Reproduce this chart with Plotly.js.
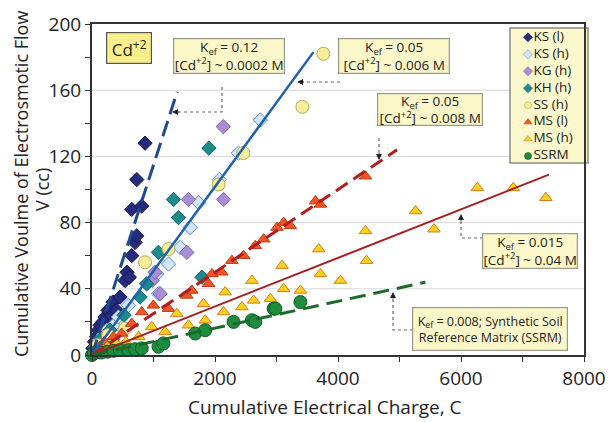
<!DOCTYPE html>
<html>
<head>
<meta charset="utf-8">
<script src="https://cdn.plot.ly/plotly-3.0.1.min.js"></script>
<style>
  html, body { margin: 0; padding: 0; background: #fff; }
  #chart { width: 612px; height: 422px; }
</style>
</head>
<body>
<div id="chart"></div>
<script>
// Cumulative electrical charge (C) vs cumulative electroosmotic flow volume (cc)
const ksLowX  = [15, 40, 75, 103, 130, 175, 211, 260, 320, 340, 401, 456, 537, 570, 608, 646, 700, 728, 646, 809, 728, 863];
const ksLowY  = [4, 8, 11, 15, 18, 20, 23, 27, 24, 32, 27, 35, 45, 50, 47, 60, 68, 72, 88, 90, 106, 128];

const ksHighX = [60, 120, 180, 239, 350, 429, 592, 890, 1053, 1081, 1244, 1433, 1596, 1734, 2070, 2380, 2737];
const ksHighY = [5, 9, 12, 15, 18, 23, 30, 43, 49, 37, 55, 65, 77, 92, 106, 122, 142];

const kgHighX = [980, 1026, 1107, 1542, 1569, 2139, 2134];
const kgHighY = [45, 50, 37, 62, 94, 94, 138];

const khHighX = [60, 150, 293, 520, 782, 889, 1080, 1325, 1406, 1787, 1900];
const khHighY = [5, 10, 15, 24, 35, 43, 62, 94, 83, 47, 125];

const ssHighX = [100, 262, 538, 863, 1244, 2058, 2460, 3421, 3763];
const ssHighY = [6, 12, 16, 56, 64, 103, 122, 150, 182];

const msLowX  = [50, 120, 200, 347, 483, 646, 809, 998, 1244, 1542, 1623, 1895, 1950, 2112, 2275, 2466, 2655, 2791, 3008, 3117, 3226, 3633, 3714, 4447];
const msLowY  = [2, 5, 8, 11, 13, 19, 26, 30, 28, 36, 39, 43, 49, 50, 57, 60, 66, 70, 77, 80, 78, 93, 91, 108];

const msHighX = [100, 250, 400, 550, 760, 971, 1189, 1380, 1569, 1813, 1841, 2139, 2166, 2438, 2601, 2628, 2900, 3090, 3117, 3388, 3687, 3714, 4040, 4447, 4463, 5262, 5560, 6266, 6850, 7380];
const msHighY = [3, 5, 7, 8, 11, 17, 14, 25, 18, 31, 21, 26, 38, 29, 45, 33, 34, 54, 40, 39, 64, 49, 45, 75, 57, 87, 76, 101, 101, 95];

const ssrmX   = [0, 30, 80, 150, 250, 350, 450, 592, 700, 809, 1081, 1161, 1678, 1841, 2302, 2601, 2655, 2954, 2981, 3388];
const ssrmY   = [0, 1, 2, 1.5, 2, 2.5, 3, 3, 3.5, 4, 5, 7, 13, 15, 20, 21, 20, 28, 28, 32];

// Linear fits (endpoints)
const fitKsLowX  = [0, 1385], fitKsLowY  = [0, 159];
const fitKsHighX = [0, 3600], fitKsHighY = [0, 183];
const fitMsLowX  = [0, 4960], fitMsLowY  = [0, 124];
const fitMsHighX = [0, 7430], fitMsHighY = [0, 109];
const fitSsrmX   = [0, 5420], fitSsrmY   = [0, 44];

const seriesNames = ['KS (l)', 'KS (h)', 'KG (h)', 'KH (h)', 'SS (h)', 'MS (l)', 'MS (h)', 'SSRM'];

const xTickVals = [0, 2000, 4000, 6000, 8000];
const yTickVals = [0, 40, 80, 120, 160, 200];
const yGridVals = [40, 80, 120, 160];

const FONT = 'Open Sans, Lato, sans-serif';

const styles = [
  {symbol: 'diamond',     size: 11, fill: '#262b7e', edge: '#141850'},
  {symbol: 'diamond',     size: 11, fill: '#d3e5f8', edge: '#5d88d2'},
  {symbol: 'diamond',     size: 11, fill: '#a88ed3', edge: '#7d62b6'},
  {symbol: 'diamond',     size: 11, fill: '#1d8b8b', edge: '#106a6a'},
  {symbol: 'circle',      size: 13, fill: '#f6ee98', edge: '#b3aa58'},
  {symbol: 'triangle-up', size: 11, fill: '#ef5623', edge: '#c23a16'},
  {symbol: 'triangle-up', size: 11, fill: '#f8d31e', edge: '#de7a18'},
  {symbol: 'circle',      size: 13, fill: '#1f8b3d', edge: '#0f5c25'}
];
const seriesX = [ksLowX, ksHighX, kgHighX, khHighX, ssHighX, msLowX, msHighX, ssrmX];
const seriesY = [ksLowY, ksHighY, kgHighY, khHighY, ssHighY, msLowY, msHighY, ssrmY];

const traces = [];
seriesX.forEach((xs, i) => {
  const s = styles[i];
  traces.push({
    x: xs, y: seriesY[i], type: 'scatter', mode: 'markers', name: seriesNames[i],
    showlegend: false, cliponaxis: false,
    marker: {symbol: s.symbol, size: s.size, color: s.fill, line: {color: s.edge, width: 1}}
  });
});

function fitLine(xs, ys, color, width, dash) {
  return {x: xs, y: ys, type: 'scatter', mode: 'lines', showlegend: false,
          hoverinfo: 'skip', line: {color: color, width: width, dash: dash}};
}
traces.push(fitLine(fitKsLowX,  fitKsLowY,  '#1f4a8c', 3,   '16px,7px'));
traces.push(fitLine(fitKsHighX, fitKsHighY, '#2160ab', 2.5, 'solid'));
traces.push(fitLine(fitMsLowX,  fitMsLowY,  '#b21d1d', 3,   '14px,7px'));
traces.push(fitLine(fitMsHighX, fitMsHighY, '#a51e1e', 2,   'solid'));
traces.push(fitLine(fitSsrmX,   fitSsrmY,   '#1b6a2b', 3,   '16px,8px'));

// Pixel helpers for placing callouts inside the plot frame
const W = 612, H = 422;
const PL = 92, PR = 584, PT = 24, PB = 355;
const fx = px => (px - PL) / (PR - PL);
const fy = py => (PB - py) / (PB - PT);

// Compact key drawn on an overlaid hidden axis pair (x in pixels, y in key rows)
const KEY_TOP = 37.3, KEY_STEP = 16.96, KEY_X = 528;
const keyRowsTop = -(KEY_TOP - PT) / KEY_STEP;
const keyRowsBottom = keyRowsTop + (PB - PT) / KEY_STEP;
traces.push({
  x: seriesNames.map(() => KEY_X), y: seriesNames.map((n, i) => i),
  xaxis: 'x2', yaxis: 'y2', type: 'scatter', mode: 'markers+text', showlegend: false,
  hoverinfo: 'skip', cliponaxis: false,
  text: seriesNames, textposition: 'middle right',
  textfont: {family: FONT, size: 13.5, color: '#222'},
  marker: {symbol: styles.map(s => s.symbol), size: 7,
           color: styles.map(s => s.fill), line: {color: styles.map(s => s.edge), width: 0.6}}
});

function box(cx, cy, w, h, text, bg, border, size) {
  return {xref: 'paper', yref: 'paper', x: fx(cx), y: fy(cy), xanchor: 'center', yanchor: 'middle',
          text: text, showarrow: false, bgcolor: bg, bordercolor: border, borderwidth: 1.2,
          borderpad: 0, width: w, height: h, align: 'center',
          font: {family: FONT, size: size, color: '#222'}};
}
function head(px, py, ax, ay) {
  return {xref: 'paper', yref: 'paper', x: fx(px), y: fy(py), ax: ax, ay: ay, text: '',
          showarrow: true, arrowhead: 2, arrowsize: 1.1, arrowwidth: 1.1, arrowcolor: '#222'};
}
function label(px, py, text, angle, size) {
  return {xref: 'paper', yref: 'paper', x: fx(px), y: fy(py), xanchor: 'center', yanchor: 'middle',
          text: text, textangle: angle, showarrow: false, font: {family: FONT, size: size, color: '#222'}};
}
const paleYellow = '#fcf7c9';
const annotations = [
  // axis titles
  label(325, 407, 'Cumulative Electrical Charge, C', 0, 19),
  label(21, 184, 'Cumulative Voulme of Electrosmotic Flow', -90, 18),
  label(42, 190, 'V (cc)', -90, 18),
  // callouts
  box(129, 48, 44, 30, 'Cd<sup>+2</sup>', '#f8ef8c', '#555', 17),
  box(229, 55.5, 110, 34, 'K<sub>ef</sub> = 0.12<br>[Cd<sup>+2</sup>] ~ 0.0002 M', paleYellow, '#9a9a8a', 13.5),
  box(394, 55.5, 110, 34, 'K<sub>ef</sub> = 0.05<br>[Cd<sup>+2</sup>] ~ 0.006 M', paleYellow, '#9a9a8a', 13.5),
  box(429.5, 109.5, 104, 31, 'K<sub>ef</sub> = 0.05<br>[Cd<sup>+2</sup>] ~ 0.008 M', paleYellow, '#9a9a8a', 13.5),
  box(530, 251, 94, 34, 'K<sub>ef</sub> = 0.015<br>[Cd<sup>+2</sup>] ~ 0.04 M', paleYellow, '#9a9a8a', 13.5),
  box(490, 329, 154, 42, 'K<sub>ef</sub> = 0.008; Synthetic Soil<br>Reference Matrix (SSRM)', paleYellow, '#9a9a8a', 12.5),
  head(172, 112, 8, 0),
  head(297, 82, 8, 0),
  head(379, 160, 0, -8),
  head(461, 214, 0, 8),
  head(393, 292, 0, 8)
];

function dotted(d) {
  return {type: 'path', xref: 'paper', yref: 'paper', path: d,
          line: {color: '#666', width: 1.2, dash: 'dot'}};
}
function P(px, py) { return fx(px).toFixed(4) + ',' + fy(py).toFixed(4); }

// horizontal gridlines, then the key frame over them; both sit beneath the markers
const shapes = yGridVals.map(v => ({
  type: 'line', xref: 'x domain', yref: 'y', layer: 'below',
  x0: 0, x1: 1, y0: v, y1: v, line: {color: '#d8d8d8', width: 1}
}));
shapes.push({type: 'rect', xref: 'x domain', yref: 'y domain', layer: 'below',
  x0: fx(510), x1: fx(588), y0: fy(163), y1: fy(28),
  fillcolor: '#fcf8cd', line: {color: '#8a8a80', width: 1.5}});
shapes.push(
  dotted('M' + P(222, 87) + ' L' + P(222, 112) + ' L' + P(178, 112)),
  dotted('M' + P(340, 82) + ' L' + P(303, 82)),
  dotted('M' + P(379, 138) + ' L' + P(379, 153)),
  dotted('M' + P(483, 238) + ' L' + P(461, 238) + ' L' + P(461, 221)),
  dotted('M' + P(413, 330) + ' L' + P(393, 330) + ' L' + P(393, 299))
);

const layout = {
  width: W, height: H,
  margin: {l: PL, r: W - PR, t: PT, b: H - PB},
  paper_bgcolor: '#fff', plot_bgcolor: '#fff',
  font: {family: FONT, color: '#222'},
  showlegend: false,
  xaxis: {
    range: [0, 8000], tickvals: xTickVals, ticks: 'outside', ticklen: 5, tickcolor: '#333',
    minor: {dtick: 1000, ticks: 'outside', ticklen: 5, tickcolor: '#333'},
    showgrid: false, zeroline: false, showline: true, linecolor: '#333', linewidth: 2, mirror: true,
    tickfont: {family: FONT, size: 19, color: '#222'}
  },
  yaxis: {
    range: [0, 200], tickvals: yTickVals, ticks: 'outside', ticklen: 5, tickcolor: '#333',
    minor: {dtick: 20, ticks: 'outside', ticklen: 5, tickcolor: '#333', showgrid: false},
    showgrid: false, zeroline: false, showline: true, linecolor: '#333', linewidth: 2, mirror: true,
    tickfont: {family: FONT, size: 19, color: '#222'}
  },
  xaxis2: {overlaying: 'x', anchor: 'y2', range: [PL, PR], visible: false, fixedrange: true},
  yaxis2: {overlaying: 'y', anchor: 'x2', range: [keyRowsBottom, keyRowsTop], visible: false, fixedrange: true},
  annotations: annotations,
  shapes: shapes
};

Plotly.newPlot('chart', traces, layout, {displayModeBar: false, staticPlot: true});
</script>
</body>
</html>
